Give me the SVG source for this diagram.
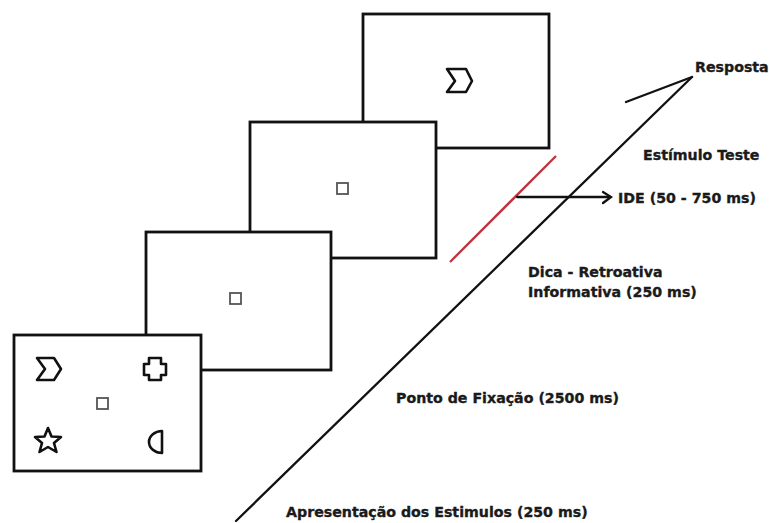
<svg xmlns="http://www.w3.org/2000/svg" width="769" height="523" viewBox="0 0 769 523">
<style>
.frame{fill:#fff;stroke:#111;stroke-width:2.8}
.shape{fill:none;stroke:#111;stroke-width:2.6;stroke-linejoin:round}
.fix{fill:#fff;stroke:#555;stroke-width:1.8}
.lbl{font-family:"DejaVu Sans",Verdana,sans-serif;font-weight:bold;font-size:14.2px;fill:#1a1a1a;stroke:#1a1a1a;stroke-width:0.35}
.ln{fill:none;stroke:#111;stroke-width:2.3;stroke-linecap:round}
</style>
<rect width="769" height="523" fill="#fff"/>
<g id="connectors">
<line class="ln" x1="236" y1="521" x2="692" y2="77"/>
<line class="ln" x1="692" y1="77" x2="626" y2="102"/>
<line x1="556" y1="156" x2="450" y2="262" stroke="#c2323a" stroke-width="2.3"/>
<line class="ln" x1="517" y1="197" x2="610" y2="197"/>
<polyline class="ln" points="603,192 611,197 603,203"/>
</g>
<g id="frame4">
<rect class="frame" x="363" y="14" width="186" height="134"/>
<polygon class="shape" points="447,69 466,69 472,81 466,92 447,92 455,81"/>
</g>
<g id="frame3">
<rect class="frame" x="250" y="122" width="186" height="136"/>
<rect class="fix" x="337" y="183" width="11" height="11" stroke="#222"/>
</g>
<g id="frame2">
<rect class="frame" x="146" y="232" width="185" height="138"/>
<rect class="fix" x="230" y="293" width="11" height="11"/>
</g>
<g id="frame1">
<rect class="frame" x="14" y="335" width="187" height="136"/>
<polygon class="shape" points="37,358 54,358 61,369 54,380 37,380 45,369"/>
<path class="shape" d="M149,358 h12 v6 h5 v11 h-5 v5 h-12 v-5 h-5 v-11 h5 z"/>
<rect class="fix" x="97" y="398" width="11" height="11"/>
<polygon class="shape" points="48,428 51.5,436.5 61,437 54,443 56.5,452 48,447 39.5,452 42,443 35,437 44.5,436.5"/>
<path class="shape" d="M162,431 L162,453 A13,11 0 0 1 162,431 Z"/>
</g>
<g id="labels">
<text class="lbl" x="695" y="72">Resposta</text>
<text class="lbl" x="643" y="160">Estímulo Teste</text>
<text class="lbl" x="618" y="203">IDE (50 - 750 ms)</text>
<text class="lbl" x="528" y="277">Dica - Retroativa</text>
<text class="lbl" x="528" y="297">Informativa (250 ms)</text>
<text class="lbl" x="396" y="403">Ponto de Fixação (2500 ms)</text>
<text class="lbl" x="286" y="517">Apresentação dos Estimulos (250 ms)</text>
</g>
</svg>
